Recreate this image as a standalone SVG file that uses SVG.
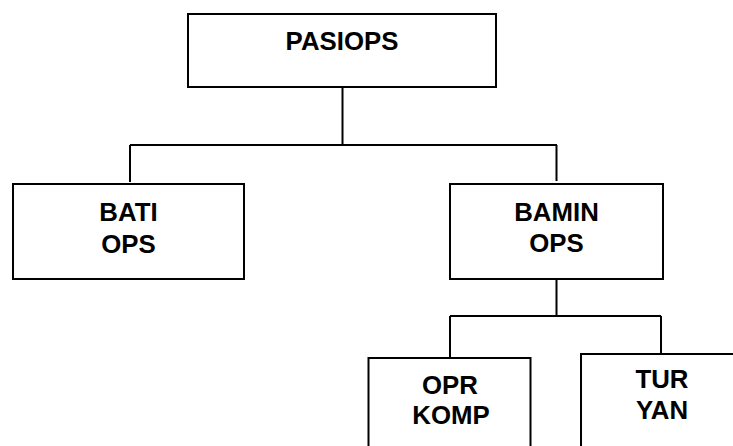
<svg xmlns="http://www.w3.org/2000/svg" width="733" height="446" viewBox="0 0 733 446">
<style>
.box{fill:#fff;stroke:#000;stroke-width:2}
.ln{fill:none;stroke:#000;stroke-width:2}
text{font-family:"Liberation Sans",Arial,sans-serif;font-weight:bold;font-size:25.8px;fill:#000;text-anchor:middle}
</style>
<rect width="733" height="446" fill="#fff"/>
<g id="connectors">
<path class="ln" d="M342.5 87V145M130 145H557M130 145V182M556.5 145V181"/>
<path class="ln" d="M556.5 279V316M450 316H661M450 316V357M661 316V353"/>
</g>
<g id="pasiops">
<rect class="box" x="188" y="14" width="308" height="73"/>
<text x="342" y="50">PASIOPS</text>
</g>
<g id="bati-ops">
<rect class="box" x="13" y="184" width="231" height="95"/>
<text x="128.5" y="221">BATI</text>
<text x="128.5" y="253">OPS</text>
</g>
<g id="bamin-ops">
<rect class="box" x="450" y="184" width="213" height="95"/>
<text x="556.5" y="221">BAMIN</text>
<text x="556.5" y="252">OPS</text>
</g>
<g id="opr-komp">
<rect class="box" x="368.5" y="358" width="162" height="100"/>
<text x="450" y="394">OPR</text>
<text x="451" y="424">KOMP</text>
</g>
<g id="tur-yan">
<rect class="box" x="581" y="354" width="162" height="100"/>
<text x="662" y="388">TUR</text>
<text x="662" y="419">YAN</text>
</g>
</svg>
